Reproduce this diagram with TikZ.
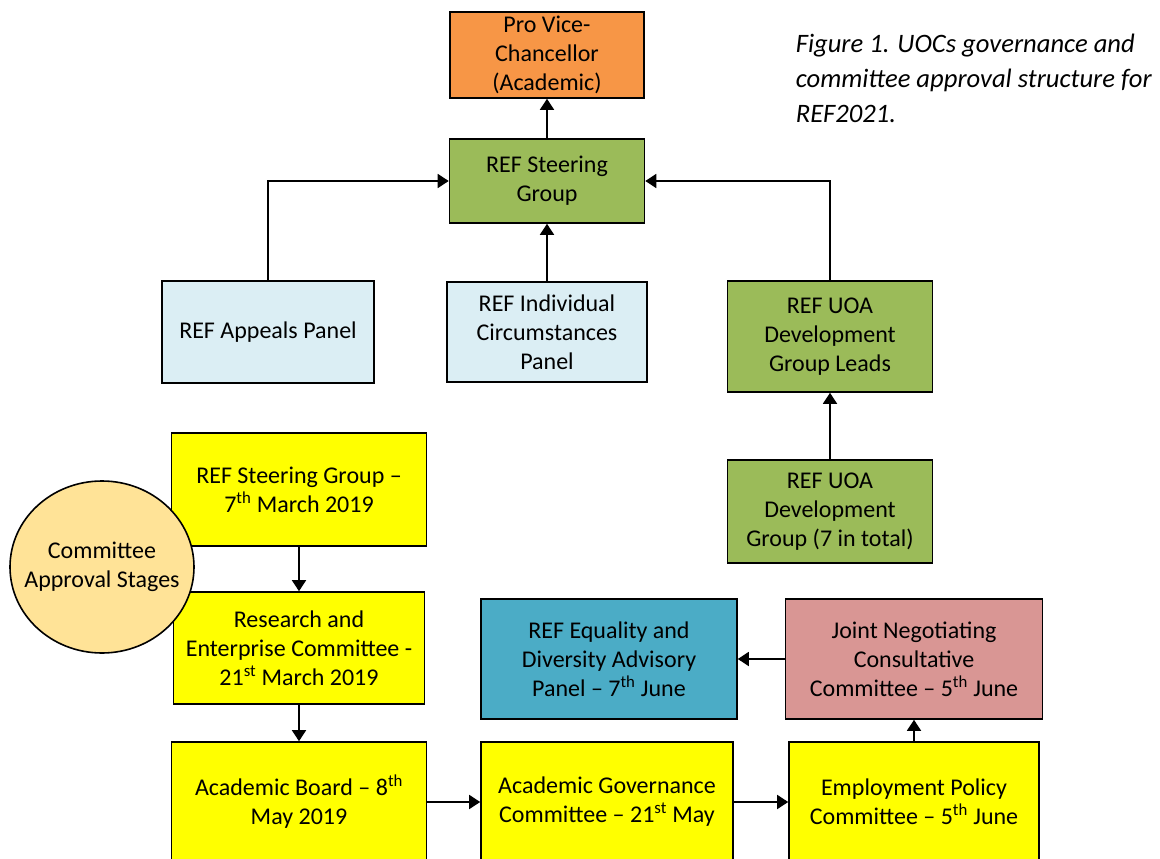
\documentclass[tikz,border=0pt]{standalone}
\usepackage{fontspec}
\setmainfont{Carlito}
\usetikzlibrary{arrows.meta,shapes.geometric}

\definecolor{pvcorange}{HTML}{F79646}
\definecolor{groupgreen}{HTML}{9BBB59}
\definecolor{panelblue}{HTML}{DBEEF4}
\definecolor{stageyellow}{HTML}{FFFF00}
\definecolor{stagecircle}{HTML}{FFE397}
\definecolor{equalityblue}{HTML}{4BACC6}
\definecolor{unionpink}{HTML}{D99694}

\begin{document}
\begin{tikzpicture}[x=1pt,y=-1pt,->,>={Triangle[length=11pt,width=14pt]},line width=1.6pt,
  box/.style={draw,rectangle,align=center,line width=1.6pt,inner sep=0pt,
    font=\fontsize{24}{29}\selectfont},
  orange box/.style={box,fill=pvcorange},
  green box/.style={box,fill=groupgreen},
  panel box/.style={box,fill=panelblue},
  stage box/.style={box,fill=stageyellow},
  stage note/.style={draw,ellipse,fill=stagecircle,align=center,line width=1.6pt,inner sep=0pt,
    minimum width=184pt,minimum height=172pt,font=\fontsize{24}{29}\selectfont}]
  \useasboundingbox (0,0) rectangle (1160,859);

  % governance structure
  \node[orange box,minimum width=194pt,minimum height=86pt] (pvc) at (547,55) {Pro Vice-\\Chancellor\\(Academic)};
  \node[green box,minimum width=195pt,minimum height=84pt] (sg) at (547,181) {REF Steering\\Group};
  \node[panel box,minimum width=212pt,minimum height=102pt] (appeals) at (268,332) {REF Appeals Panel};
  \node[panel box,minimum width=200pt,minimum height=100pt] (indiv) at (547,332) {REF Individual\\Circumstances\\Panel};
  \node[green box,minimum width=205pt,minimum height=111pt] (leads) at (830,336.5) {REF UOA\\Development\\Group Leads};
  \node[green box,minimum width=205pt,minimum height=103pt] (uoadev) at (830,511.5) {REF UOA\\Development\\Group (7 in total)};

  \draw (sg) -- (pvc);
  \draw (appeals.north) |- (sg.west);
  \draw (indiv) -- (sg);
  \draw (leads.north) |- (sg.east);
  \draw (uoadev) -- (leads);

  % committee approval stages
  \node[stage box,minimum width=255pt,minimum height=113pt] (sgmarch) at (299,489.5) {REF Steering Group --\\7\textsuperscript{th} March 2019};
  \node[stage box,minimum width=251pt,minimum height=112pt] (rec) at (299,648) {Research and\\Enterprise Committee -\\21\textsuperscript{st} March 2019};
  \node[stage box,minimum width=255pt,minimum height=120pt] (acboard) at (299,802) {Academic Board -- 8\textsuperscript{th}\\May 2019};
  \node[stage box,minimum width=252pt,minimum height=120pt] (acgov) at (607,802) {Academic Governance\\Committee -- 21\textsuperscript{st} May};
  \node[stage box,minimum width=250pt,minimum height=120pt] (emp) at (914,802) {Employment Policy\\Committee -- 5\textsuperscript{th} June};
  \node[box,fill=equalityblue,minimum width=256pt,minimum height=120pt] (redi) at (609,659) {REF Equality and\\Diversity Advisory\\Panel -- 7\textsuperscript{th} June};
  \node[box,fill=unionpink,minimum width=257pt,minimum height=120pt] (jncc) at (914,659) {Joint Negotiating\\Consultative\\Committee -- 5\textsuperscript{th} June};
  \node[stage note] (stages) at (102,567) {\makebox[0pt]{Committee}\\\makebox[0pt]{Approval Stages}};

  \draw (sgmarch) -- (rec);
  \draw (rec) -- (acboard);
  \draw (acboard) -- (acgov);
  \draw (acgov) -- (emp);
  \draw (emp) -- (jncc);
  \draw (jncc) -- (redi);

  \node[anchor=north west,align=left,inner sep=0pt,font=\fontsize{26.6}{35}\selectfont\itshape] (caption) at (795,33)
    {Figure 1. UOCs governance and\\committee approval structure for\\REF2021.};
\end{tikzpicture}
\end{document}
